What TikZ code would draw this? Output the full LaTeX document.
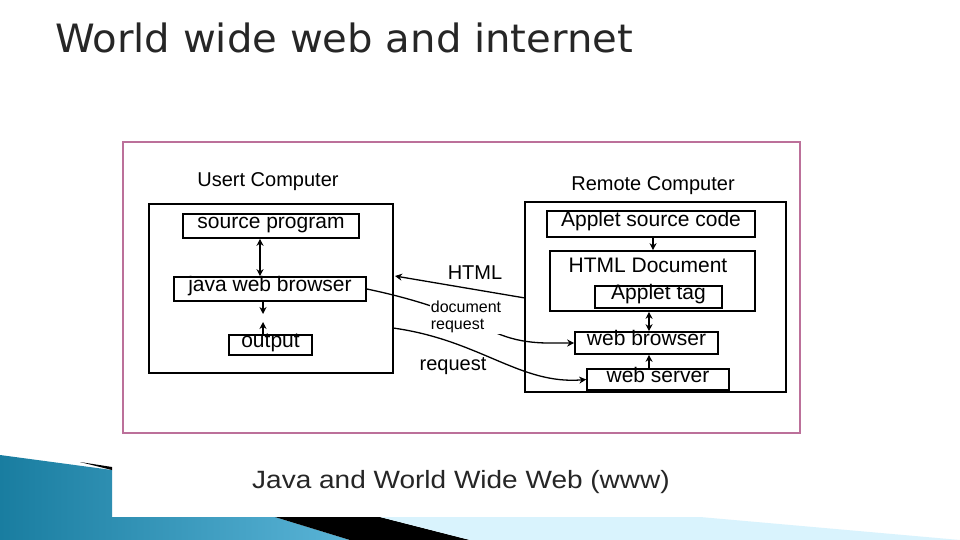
\documentclass[tikz,border=0pt]{standalone}
\usepackage{fontspec}
\setmainfont{Liberation Sans}
\newfontfamily\titlefont{DejaVu Sans}
\usetikzlibrary{arrows.meta}
\definecolor{teal1}{RGB}{25,125,160}
\definecolor{teal2}{RGB}{90,180,215}
\begin{document}
\begin{tikzpicture}[x=1pt,y=-1pt,
  bx/.style={draw,line width=1.6pt,inner sep=0pt,text depth=0.25em,text height=0.75em,font=\fontsize{21}{21}\selectfont},
  lbl/.style={font=\fontsize{20}{20}\selectfont},
  ar/.style={line width=1.3pt,-{Stealth[length=7pt,width=7pt]}},
  dar/.style={line width=1.3pt,{Stealth[length=7pt,width=7pt]}-{Stealth[length=7pt,width=7pt]}}]
\useasboundingbox[fill=white] (0,0) rectangle (960,540);
% decoration
\shade[left color=teal1,right color=teal2] (0,455) -- (112,470) -- (112,517) -- (275,517) -- (350,540) -- (0,540) -- cycle;
\fill[black] (80,462) -- (112,467) -- (112,470) -- cycle;
\fill[black] (275,517) -- (380,517) -- (470,540) -- (350,540) -- cycle;
\fill[cyan!15] (380,517) -- (700,517) -- (960,540) -- (470,540) -- cycle;
\node[anchor=base west,font=\titlefont\fontsize{39}{39}\selectfont,text=black!85,xscale=1.03,inner sep=0pt] (t) at (55,53) {World wide web and internet};
\draw[magenta!60!black!70,line width=1.5pt] (123,142) rectangle (800,433);
\node[font=\fontsize{25}{25}\selectfont,text=black!85,xscale=1.12] (caption) at (461,482) {Java and World Wide Web (www)};
% left
\node[bx,minimum width=244,minimum height=169] (L) at (271,288.5) {};
\node[lbl] (lt) at (268,182) {Usert Computer};
\node[bx,minimum width=176,minimum height=24] (sp) at (271,226) {source program};
\node[bx,minimum width=192,minimum height=24] (jw) at (270,289) {java web browser};
\node[bx,minimum width=83,minimum height=20] (out) at (270.5,345) {output};
\draw[dar] (sp.south -| 260,0) -- (jw.north -| 260,0);
\coordinate (d1) at (263,314);
\coordinate (u1) at (263,322);
\draw[ar] (jw.south -| 263,0) -- (d1);
\draw[ar] (out.north -| 263,0) -- (u1);
% right
\node[bx,minimum width=261,minimum height=190] (R) at (655.5,297) {};
\node[lbl] (rt) at (653,186) {Remote Computer};
\node[bx,minimum width=208,minimum height=26] (as) at (651,224) {Applet source code};
\node[bx,minimum width=205,minimum height=60] (hd) at (652.5,281) {};
\node[font=\fontsize{21}{21}\selectfont] (hdt) at (648,265) {HTML Document};
\node[bx,minimum width=127,minimum height=22] (at) at (658.5,297) {Applet tag};
\node[bx,minimum width=143,minimum height=22] (wb) at (646.5,343) {web browser};
\node[bx,minimum width=142,minimum height=21] (ws) at (658,379.5) {web server};
\draw[ar] (as.south -| 653,0) -- (hd.north -| 653,0);
\draw[dar] (hd.south -| 649,0) -- (wb.north -| 649,0);
\draw[ar] (ws.north -| 649,0) -- (wb.south -| 649,0);
% connectors
\coordinate (hs) at (525,298);
\draw[ar] (hs) -- (395,276);
\node[lbl] (html) at (475,273) {HTML};
\draw[ar] (jw.east) .. controls (420,300) and (460,315) .. (490,330) .. controls (520,345) and (545,343) .. (wb.west);
\node[align=left,font=\fontsize{16}{17}\selectfont,fill=white,inner sep=1pt] (dr) at (466,317) {document\\request};
\coordinate (rs) at (393,328);
\draw[ar] (rs) .. controls (480,340) and (520,385) .. (ws.west);
\node[lbl] (rq) at (453,366) {request};
\end{tikzpicture}
\end{document}
